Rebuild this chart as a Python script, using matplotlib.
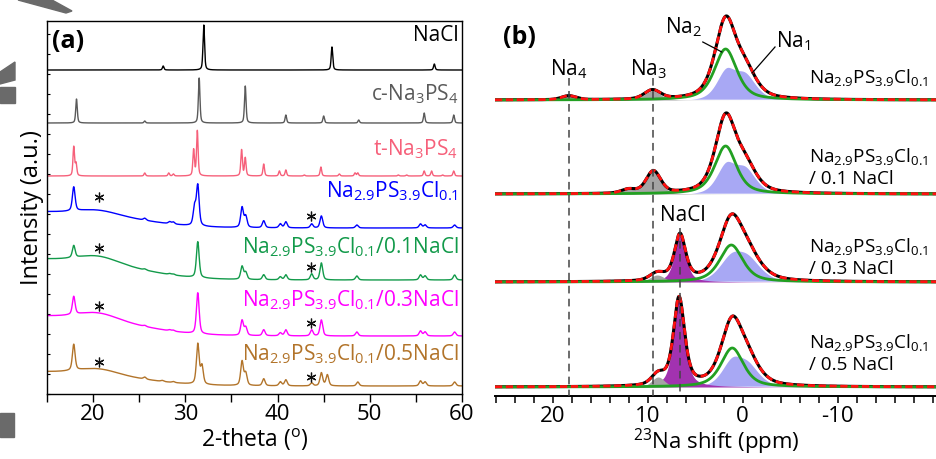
import numpy as np
import matplotlib.pyplot as plt
from matplotlib.ticker import MultipleLocator
from matplotlib.patches import Polygon, Rectangle

plt.rcParams['font.family'] = ['Open Sans', 'DejaVu Sans']
plt.rcParams['mathtext.fontset'] = 'custom'
plt.rcParams['mathtext.rm'] = 'Open Sans'
plt.rcParams['mathtext.it'] = 'Open Sans:italic'
plt.rcParams['mathtext.bf'] = 'Open Sans:bold'
plt.rcParams['axes.unicode_minus'] = False

# ---------------- (a) XRD: peak lists (2-theta, height) ----------------
nacl_pos = [27.6, 32.0, 45.9, 57.0]
nacl_h = [4, 45, 23, 6]

cubic_pos = [18.2, 25.6, 31.5, 36.5, 40.9, 45.0, 48.8, 55.9, 59.1]
cubic_h = [24, 2, 45, 37, 8, 7, 3, 10, 8]

tet_pos = [17.9, 18.15, 25.6, 28.2, 28.7, 30.9, 31.3, 36.1, 36.5, 38.5, 40.2, 40.9,
           42.9, 44.7, 46.7, 48.4, 48.7, 53.1, 54.0, 55.9, 56.7, 57.9, 59.1]
tet_h = [29, 12, 3, 3, 2, 26, 45, 26, 18, 12, 5, 6, 1, 9, 2, 3, 3, 1, 1, 5, 5, 1, 5]

sample_pos = [17.9, 25.6, 28.3, 28.7, 31.0, 31.35, 36.15, 36.55, 38.5, 40.3, 40.9,
              43.7, 44.75, 48.6, 55.5, 56.0, 59.2]
pure_h = [24, 2, 2, 2, 18, 40, 20, 11, 7, 4, 6, 4, 12, 3, 4, 3, 3]
nacl01_h = [12, 1, 1, 1, 0, 36, 13, 7, 5, 3, 5, 6, 17, 4, 5, 4, 5]
nacl03_h = [18, 1, 1, 1, 0, 41, 15, 8, 6, 3, 6, 6, 16, 4, 5, 4, 4]
nacl05_pos = [17.9, 25.6, 27.5, 28.7, 31.35, 31.8, 36.15, 36.55, 38.5, 40.3, 40.9,
              43.7, 44.75, 45.4, 48.7, 55.5, 56.0, 59.2]
nacl05_h = [26, 2, 1, 1, 40, 18, 24, 12, 7, 4, 6, 3, 13, 11, 4, 5, 4, 4]

# amorphous halo (step height, hump height) for the milled samples
halo_step = [17, 22, 21, 15]
halo_hump = [4, 6, 6, 5]

xrd_labels = ['NaCl', r'c-Na$_3$PS$_4$', r't-Na$_3$PS$_4$',
              r'Na$_{2.9}$PS$_{3.9}$Cl$_{0.1}$',
              r'Na$_{2.9}$PS$_{3.9}$Cl$_{0.1}$/0.1NaCl',
              r'Na$_{2.9}$PS$_{3.9}$Cl$_{0.1}$/0.3NaCl',
              r'Na$_{2.9}$PS$_{3.9}$Cl$_{0.1}$/0.5NaCl']
xrd_colors = ['black', '#5a5a5a', '#f6607a', '#0000ff', '#129a4a', '#ff00ff', '#b2742a']

# ---------------- (b) 23Na NMR fit components ----------------
nmr_labels = [r'Na$_{2.9}$PS$_{3.9}$Cl$_{0.1}$',
              r'Na$_{2.9}$PS$_{3.9}$Cl$_{0.1}$' + '\n/ 0.1 NaCl',
              r'Na$_{2.9}$PS$_{3.9}$Cl$_{0.1}$' + '\n/ 0.3 NaCl',
              r'Na$_{2.9}$PS$_{3.9}$Cl$_{0.1}$' + '\n/ 0.5 NaCl']
na2_pos = [1.8, 1.8, 1.2, 1.1]
na2_h = [51, 48, 37, 39]
na2_fwhm = [2.8, 2.7, 2.9, 2.8]
na1a_pos = [1.8, 1.8, 1.3, 1.2]
na1a_h = [27, 27, 21, 23]
na1b_pos = [-0.3, -0.3, -0.6, -0.6]
na1b_h = [24, 24, 21, 20]
na1_fwhm = [2.4, 2.4, 3.0, 2.6]
na3_pos = [9.5, 9.4, 9.0, 8.9]
na3_h = [9, 22, 7, 10]
na3_fwhm = [2.0, 1.8, 1.8, 1.6]
na4_pos = [18.3, 12.0, 18.3, 18.3]
na4_h = [4, 4, 0, 0]
nacl_nmr_pos = [6.6, 6.6, 6.6, 6.7]
nacl_nmr_h = [0, 0, 46, 88]


def pvoigt(x, x0, h, fwhm, eta):
    g = np.exp(-4 * np.log(2) * ((x - x0) / fwhm) ** 2)
    lor = 1 / (1 + 4 * ((x - x0) / fwhm) ** 2)
    return h * (eta * lor + (1 - eta) * g)


def pattern(x, pos, heights, fwhm):
    y = np.zeros_like(x)
    for p, h in zip(pos, heights):
        y += pvoigt(x, p, h, fwhm, 0.5)
    return y


fig = plt.figure(figsize=(9.37, 4.59), dpi=100)

# stray grey shapes along the left edge of the original picture
for verts in ([(18, 0), (52, 0), (72, 11), (66, 13)],
              [(0, 72), (15, 62), (15, 80), (0, 84)]):
    fig.patches.append(Polygon([(vx / 937, 1 - vy / 459) for vx, vy in verts],
                               closed=True, transform=fig.transFigure,
                               color='#6a6a6a', zorder=0))
for rx, ry, rw, rh in [(0, 87, 15, 16), (0, 413, 14, 24)]:
    fig.patches.append(Rectangle((rx / 937, 1 - (ry + rh) / 459), rw / 937, rh / 459,
                                 transform=fig.transFigure, color='#6a6a6a', zorder=0))

# ---------------- panel (a) ----------------
ax1 = fig.add_axes([47 / 937, 1 - 394 / 459, 415 / 937, 373 / 459])
tt = np.linspace(15, 60, 4000)

ref_offsets = [324, 271, 218]
refs = [(nacl_pos, nacl_h), (cubic_pos, cubic_h), (tet_pos, tet_h)]
for (pos, hh), off, col in zip(refs, ref_offsets, xrd_colors[:3]):
    ax1.plot(tt, off + pattern(tt, pos, hh, 0.2), color=col, lw=1.0)

sample_offsets = [166, 114, 58, 8]
samples = [(sample_pos, pure_h), (sample_pos, nacl01_h), (sample_pos, nacl03_h),
           (nacl05_pos, nacl05_h)]
for i, ((pos, hh), off) in enumerate(zip(samples, sample_offsets)):
    bg = halo_step[i] / (1 + np.exp((tt - 25) / 3)) + \
        halo_hump[i] * np.exp(-0.5 * ((tt - 20.5) / 2) ** 2)
    ax1.plot(tt, off + bg + pattern(tt, pos, hh, 0.35), color=xrd_colors[3 + i], lw=1.0)

label_base = [41, 100, 155, 197, 253, 306, 360]
for lab, yb, col in zip(xrd_labels, label_base, xrd_colors):
    ax1.text(59.6, 394 - yb, lab, color=col, fontsize=15, ha='right', va='baseline')

star_y = [(197, 216), (248, 267), (306, 323), (362, 377)]
for ya, yb in star_y:
    ax1.plot([20.6, 43.6], [394 - ya, 394 - yb], ls='none', marker=(6, 2, 0),
             ms=7, mew=0.9, color='#111111')

ax1.text(15.5, 352, '(a)', fontsize=18, fontweight='bold', va='center')
ax1.set_xlim(15, 60)
ax1.set_ylim(0, 373)
ax1.xaxis.set_major_locator(MultipleLocator(10))
ax1.xaxis.set_minor_locator(MultipleLocator(5))
ax1.yaxis.set_major_locator(MultipleLocator(20))
ax1.tick_params(axis='x', which='both', direction='out', length=5.5, width=1,
                labelsize=16, pad=2, top=False)
ax1.tick_params(axis='y', which='both', direction='in', length=2.5, width=0.8,
                labelleft=False, right=False)
ax1.set_xticks([20, 30, 40, 50, 60])
for sp in ax1.spines.values():
    sp.set_linewidth(1.0)
ax1.set_xlabel(r'2-theta ($^{\mathrm{o}}$)', fontsize=16.5, labelpad=1)
ax1.set_ylabel('Intensity (a.u.)', fontsize=17, labelpad=2)

# ---------------- panel (b) ----------------
ax2 = fig.add_axes([495 / 937, 1 - 396 / 459, 442 / 937, 396 / 459])
ppm = np.linspace(26.07, -20.45, 3000)
nmr_offsets = [296, 202, 114, 9]
for i, off in enumerate(nmr_offsets):
    na2 = pvoigt(ppm, na2_pos[i], na2_h[i], na2_fwhm[i], 0.6)
    na1 = pvoigt(ppm, na1a_pos[i], na1a_h[i], na1_fwhm[i], 0.4) + \
        pvoigt(ppm, na1b_pos[i], na1b_h[i], na1_fwhm[i] + 0.3, 0.5)
    na3 = pvoigt(ppm, na3_pos[i], na3_h[i], na3_fwhm[i], 0.3)
    na4 = pvoigt(ppm, na4_pos[i], na4_h[i], 1.8, 0.3)
    nacl = pvoigt(ppm, nacl_nmr_pos[i], nacl_nmr_h[i], 1.4, 0.6)
    total = na1 + na2 + na3 + na4 + nacl

    ax2.fill_between(ppm, off, off + na1, color='#a8a8f4', ec='white', lw=1.2, zorder=1)
    ax2.fill_between(ppm, off, off + na3 + na4, color='#a4a4a4', lw=0, zorder=1.2)
    if nacl_nmr_h[i] > 0:
        ax2.fill_between(ppm, off, off + nacl, color='#a232b0', lw=0, zorder=1.1)
    ax2.plot(ppm, off + total, color='black', lw=2.2, zorder=2)
    ax2.plot(ppm, off + na2, color='#22a022', lw=2.0, zorder=3)
    ax2.plot(ppm, off + total, color='#ff1010', lw=2.0, ls=(0, (2.6, 1.3)), zorder=4)

nmr_text_base = [(83,), (157, 184), (247, 274), (343, 370)]
for lab, ys in zip(nmr_labels, nmr_text_base):
    ax2.text(-7.0, 396 - ys[-1], lab, fontsize=13.6, ha='left', va='baseline',
             linespacing=1.2)

# site markers
for xp, y0, y1 in [(18.3, 318, 0), (9.45, 318, 0), (6.6, 168, 0)]:
    ax2.plot([xp, xp], [y0, y1], color='#444444', lw=1.1, ls=(0, (5, 3.5)), zorder=5)
ax2.text(18.3, 396 - 75, r'Na$_4$', fontsize=15, ha='center', va='baseline')
ax2.text(9.9, 396 - 75, r'Na$_3$', fontsize=15, ha='center', va='baseline')
ax2.text(6.3, 396 - 221, 'NaCl', fontsize=15, ha='center', va='baseline')
ax2.text(6.2, 396 - 33, r'Na$_2$', fontsize=15, ha='center', va='baseline')
ax2.text(-5.3, 396 - 47, r'Na$_1$', fontsize=15, ha='center', va='baseline')
ax2.plot([4.2, 2.2], [396 - 42, 396 - 52], color='black', lw=0.9, zorder=6)
ax2.plot([-3.4, -1.0], [396 - 47, 396 - 73], color='black', lw=0.9, zorder=6)

ax2.text(25.2, 396 - 38, '(b)', fontsize=18, fontweight='bold', va='center')

ax2.set_xlim(26.07, -20.45)
ax2.set_ylim(0, 396)
for s in ['top', 'left', 'right']:
    ax2.spines[s].set_visible(False)
ax2.spines['bottom'].set_linewidth(1.4)
ax2.set_yticks([])
ax2.set_xticks([20, 10, 0, -10])
ax2.xaxis.set_minor_locator(MultipleLocator(2))
ax2.tick_params(axis='x', which='both', direction='out', length=5, width=1.1,
                labelsize=16, pad=2)
ax2.set_xlabel(r'$^{23}$Na shift (ppm)', fontsize=16, labelpad=0)

fig.savefig('out.png', dpi=100)
